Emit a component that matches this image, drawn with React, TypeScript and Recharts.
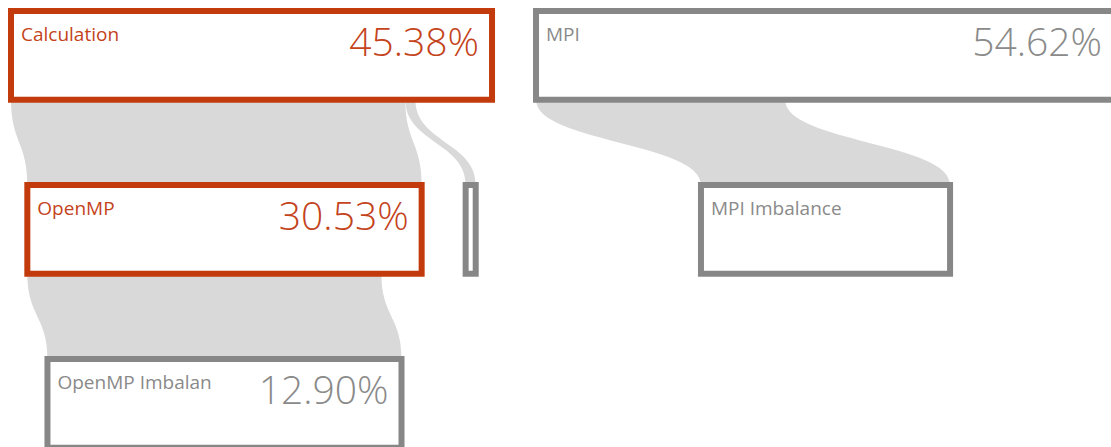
import { ComposedChart, XAxis, YAxis, ReferenceArea, Scatter } from "recharts";

// tree nodes, parents listed before their children
const nodeNames = ["Calculation", "MPI", "OpenMP", "", "MPI Imbalance", "OpenMP Imbalance"];
const nodeParents = [-1, -1, 0, 0, 1, 2];
// relative box size (share of the top row)
const nodeSizes = [45.38, 54.62, 37.2, 0.95, 23.5, 33.4];
// percentage printed in the box
const nodePercents: (number | null)[] = [45.38, 54.62, 30.53, null, null, 12.9];
const nodeHot = [true, false, true, false, false, false];

const GAP = 4.15;
const BOX_H = 0.51;
const RED = "#c33b0c";
const RED_TEXT = "#c4431b";
const GRAY = "#878787";
const GRAY_TEXT = "#8a8a8a";
const FLOW = "#d9d9d9";
const FONT = "'Open Sans', 'Noto Sans', sans-serif";

type Box = {
  id: number;
  name: string;
  level: number;
  x0: number;
  x1: number;
  percent: number | null;
  hot: boolean;
};
type Flow = { a0: number; a1: number; b0: number; b1: number; top: number; bottom: number };

function buildLayout() {
  const boxes: Box[] = nodeNames.map((name, i) => ({
    id: i,
    name,
    level: 0,
    x0: 0,
    x1: 0,
    percent: nodePercents[i],
    hot: nodeHot[i],
  }));
  const flows: Flow[] = [];
  let cursor = 0;
  nodeParents.forEach((p, i) => {
    if (p < 0) {
      boxes[i].x0 = cursor;
      boxes[i].x1 = cursor + nodeSizes[i];
      cursor = boxes[i].x1 + GAP;
    }
  });
  const total = cursor - GAP;
  boxes.forEach((parent) => {
    const kids = nodeParents.map((p, i) => (p === parent.id ? i : -1)).filter((i) => i >= 0);
    if (!kids.length) return;
    const groupW = kids.reduce((s, k) => s + nodeSizes[k], 0) + GAP * (kids.length - 1);
    let x = (parent.x0 + parent.x1) / 2 - groupW / 2;
    let a = parent.x0;
    kids.forEach((k) => {
      const b = boxes[k];
      b.level = parent.level + 1;
      b.x0 = x;
      b.x1 = x + nodeSizes[k];
      flows.push({
        a0: a,
        a1: a + nodeSizes[k],
        b0: b.x0,
        b1: b.x1,
        top: parent.level + BOX_H,
        bottom: b.level,
      });
      a += nodeSizes[k];
      x = b.x1 + GAP;
    });
  });
  return { boxes, flows, total };
}

const { boxes, flows, total } = buildLayout();
const anchors = boxes.map((b) => ({ x: b.x0, y: b.level }));

function valueWidth(text: string, size: number) {
  let w = 0;
  for (const c of text) w += c === "." ? 0.27 : c === "%" ? 0.84 : 0.57;
  return w * size;
}

function renderFlow(f: Flow, p: any) {
  const lo = Math.min(f.a0, f.b0);
  const hi = Math.max(f.a1, f.b1);
  const sx = (u: number) => p.x + ((u - lo) / (hi - lo)) * p.width;
  const y0 = p.y;
  const y1 = p.y + p.height;
  const ym = (y0 + y1) / 2;
  const d = `M${sx(f.a0)},${y0} C${sx(f.a0)},${ym} ${sx(f.b0)},${ym} ${sx(f.b0)},${y1} L${sx(f.b1)},${y1} C${sx(f.b1)},${ym} ${sx(f.a1)},${ym} ${sx(f.a1)},${y0} Z`;
  return <path d={d} fill={FLOW} stroke="none" />;
}

function renderBox(b: Box, p: any) {
  const { x, y, width, height } = p;
  const stroke = b.hot ? RED : GRAY;
  const color = b.hot ? RED_TEXT : GRAY_TEXT;
  const value = b.percent != null ? `${b.percent.toFixed(2)}%` : "";
  const vw = valueWidth(value, 38);
  const nameMax = value ? width - 13 - vw - 52 : width - 16;
  const clipId = `name-clip-${b.id}`;
  return (
    <g>
      <rect x={x} y={y} width={width} height={height} fill="#fff" stroke={stroke} strokeWidth={6} />
      {b.name && (
        <>
          <defs>
            <clipPath id={clipId}>
              <rect x={x + 4} y={y} width={Math.max(0, nameMax)} height={height} />
            </clipPath>
          </defs>
          <text
            x={x + 10}
            y={y + 29.5}
            fill={color}
            fontSize={19}
            fontFamily={FONT}
            clipPath={`url(#${clipId})`}
          >
            {b.name}
          </text>
        </>
      )}
      {value && (
        <text
          x={x + width - 13}
          y={y + 44.5}
          textAnchor="end"
          fill={color}
          fontSize={39}
          fontWeight={300}
          fontFamily={FONT}
        >
          {value}
        </text>
      )}
    </g>
  );
}

export default function App() {
  return (
    <div
      style={{
        position: "absolute",
        left: 0,
        top: 0,
        width: 1111,
        height: 447,
        overflow: "hidden",
        background: "#fff",
      }}
    >
      <ComposedChart
        width={1130}
        height={460}
        data={anchors}
        margin={{ top: 11, right: 15, bottom: 14, left: 11 }}
      >
        <XAxis type="number" dataKey="x" domain={[0, total]} hide />
        <YAxis type="number" dataKey="y" domain={[0, 2.5]} reversed hide />
        <Scatter data={anchors} dataKey="y" fill="none" shape={() => <g />} isAnimationActive={false} />
        {flows.map((f, i) => (
          <ReferenceArea
            key={`flow-${i}`}
            x1={Math.min(f.a0, f.b0)}
            x2={Math.max(f.a1, f.b1)}
            y1={f.top}
            y2={f.bottom}
            ifOverflow="visible"
            shape={(p: any) => renderFlow(f, p)}
          />
        ))}
        {boxes.map((b) => (
          <ReferenceArea
            key={`box-${b.id}`}
            x1={b.x0}
            x2={b.x1}
            y1={b.level}
            y2={b.level + BOX_H}
            ifOverflow="visible"
            shape={(p: any) => renderBox(b, p)}
          />
        ))}
      </ComposedChart>
    </div>
  );
}
